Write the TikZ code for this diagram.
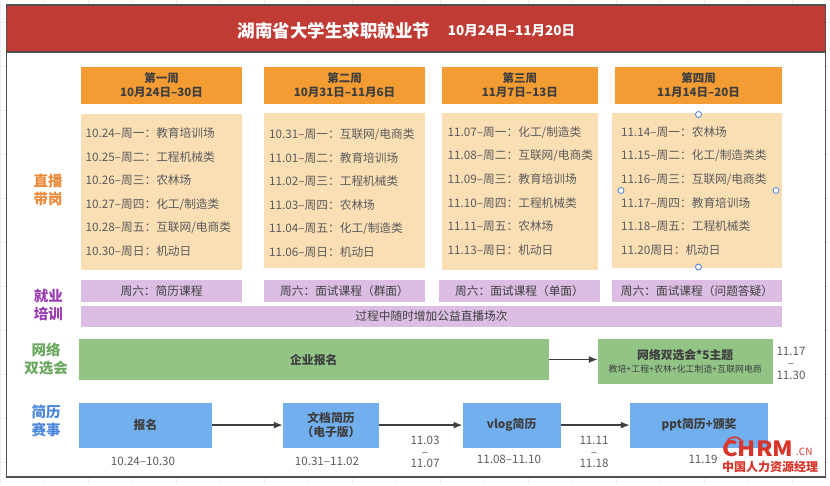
\documentclass[tikz,border=0pt]{standalone}
\usepackage{fontspec}
\setmainfont{Noto Sans CJK SC}
\usetikzlibrary{arrows.meta}
\definecolor{cred}{HTML}{BF3B33}
\definecolor{corange}{HTML}{F29C33}
\definecolor{ccream}{HTML}{FADFB5}
\definecolor{cpurple}{HTML}{DCBEE4}
\definecolor{cgreen}{HTML}{92C486}
\definecolor{cblue}{HTML}{71AFEE}
\definecolor{cink}{HTML}{3E3E3E}
\definecolor{cgrid}{HTML}{EFEFEF}
\definecolor{clogo}{HTML}{D8342A}
\definecolor{sorange}{HTML}{EC8A3A}
\definecolor{spurple}{HTML}{9A3DB0}
\definecolor{sgreen}{HTML}{6AA860}
\definecolor{sblue}{HTML}{4A86DC}
\definecolor{chandle}{HTML}{4A7FD6}
\tikzset{
  x=1pt,y=-1pt,
  boxa/.style={inner sep=0pt,align=center,text=cink,font=\fontsize{11.5}{13.5}\selectfont\bfseries},
  item/.style={anchor=west,inner sep=0pt,text=cink!85!white,font=\fontsize{11.7}{13}\selectfont},
  side/.style={inner sep=0pt,align=center,font=\fontsize{14.5}{18.5}\selectfont\bfseries},
  note/.style={inner sep=0pt,align=center,text=cink!85!white,font=\fontsize{11.6}{11.8}\selectfont},
  link/.style={draw=cink,line width=1.5pt,-{Latex[length=9pt,width=7pt]}},
  handle/.style={circle,draw=chandle,fill=white,line width=0.8pt,minimum size=6pt,inner sep=0pt},
}
% name, x1, y1, x2, y2, fill, text
\newcommand{\rbox}[7]{\node[boxa,fill=#6,minimum width=#4pt-#2pt,minimum height=#5pt-#3pt] (#1) at ({(#2+#4)/2},{(#3+#5)/2}) {#7};}
\begin{document}
\begin{tikzpicture}
\useasboundingbox (0,0) rectangle (830,485);
\fill[white] (0,0) rectangle (830,485);
\foreach \gx in {0,44,...,830} \draw[cgrid,line width=0.5pt] (\gx,0) -- (\gx,485);
\foreach \gy in {22,66,...,485} \draw[cgrid,line width=0.5pt] (0,\gy) -- (830,\gy);
% frame
\draw[fill=white,draw=cink!90!white,line width=1.1pt] (6.5,5) rectangle (825.7,477);
\draw[fill=cred,draw=cink!90!white,line width=1.1pt] (6.5,5) rectangle (825.7,52);
\node[inner sep=0pt,text=white,font=\fontsize{17.5}{20}\selectfont\bfseries] (title) at (334,30.5) {湖南省大学生求职就业节};
\node[inner sep=0pt,text=white,font=\fontsize{13.5}{16}\selectfont\bfseries] (dates) at (511.5,30.5) {10月24日–11月20日};
% week headers
\rbox{w1}{81}{66.5}{242}{104}{corange}{第一周\\10月24日–30日}
\rbox{w2}{264}{66.5}{425}{104}{corange}{第二周\\10月31日–11月6日}
\rbox{w3}{441.7}{66.5}{598}{104}{corange}{第三周\\11月7日–13日}
\rbox{w4}{615}{66.5}{782}{104}{corange}{第四周\\11月14日–20日}
% list panels
\rbox{p1}{81}{114}{242}{270}{ccream}{}
\rbox{p2}{264}{113}{425}{268}{ccream}{}
\rbox{p3}{441.7}{113}{598}{270}{ccream}{}
\rbox{p4}{612}{113}{782}{268}{ccream}{}
\node[item] (a1) at (85.5,133.5) {10.24–周一：教育培训场};
\node[item] (a2) at (85.5,157) {10.25–周二：工程机械类};
\node[item] (a3) at (85.5,180.5) {10.26–周三：农林场};
\node[item] (a4) at (85.5,204.5) {10.27–周四：化工/制造类};
\node[item] (a5) at (85.5,227.5) {10.28–周五：互联网/电商类};
\node[item] (a6) at (85.5,251.5) {10.30–周日：机动日};
\node[item] (b1) at (269,134.5) {10.31–周一：互联网/电商类};
\node[item] (b2) at (269,158) {11.01–周二：教育培训场};
\node[item] (b3) at (269,181.5) {11.02–周三：工程机械类};
\node[item] (b4) at (269,205) {11.03–周四：农林场};
\node[item] (b5) at (269,228.5) {11.04–周五：化工/制造类};
\node[item] (b6) at (269,252) {11.06–周日：机动日};
\node[item] (c1) at (447.5,132.5) {11.07–周一：化工/制造类};
\node[item] (c2) at (447.5,155.5) {11.08–周二：互联网/电商类};
\node[item] (c3) at (447.5,179.5) {11.09–周三：教育培训场};
\node[item] (c4) at (447.5,203) {11.10–周四：工程机械类};
\node[item] (c5) at (447.5,226.5) {11.11–周五：农林场};
\node[item] (c6) at (447.5,250.5) {11.13–周日：机动日};
\node[item] (d1) at (621,132.5) {11.14–周一：农林场};
\node[item] (d2) at (621,155.5) {11.15–周二：化工/制造类类};
\node[item] (d3) at (621,179.5) {11.16–周三：互联网/电商类};
\node[item] (d4) at (621,203) {11.17–周四：教育培训场};
\node[item] (d5) at (621,226.5) {11.18–周五：工程机械类};
\node[item] (d6) at (621,250.5) {11.20周日：机动日};
% selection handles
\node[handle] (h1) at (698.5,114.5) {};
\node[handle] (h2) at (621,190.5) {};
\node[handle] (h3) at (776,190.5) {};
\node[handle] (h4) at (698.5,267) {};
% side labels
\node[side,text=sorange] (s1) at (48,190) {直播\\带岗};
\node[side,text=spurple] (s2) at (48.5,305) {就业\\培训};
\node[side,text=sgreen] (s3) at (46,359) {网络\\双选会};
\node[side,text=sblue] (s4) at (46,421) {简历\\赛事};
% training
\tikzset{boxa/.append style={font=\fontsize{11.7}{13}\selectfont}}
\rbox{t1}{81}{280}{242}{301.5}{cpurple}{周六：简历课程}
\rbox{t2}{264}{280}{425}{301.5}{cpurple}{周六：面试课程（群面）}
\rbox{t3}{439}{280}{600}{301.5}{cpurple}{周六：面试课程（单面）}
\rbox{t4}{612}{279.5}{782}{302}{cpurple}{周六：面试课程（问题答疑）}
\rbox{t5}{81}{306}{782}{327}{cpurple}{过程中随时增加公益直播场次}
% green
\tikzset{boxa/.append style={font=\fontsize{11.8}{14.5}\selectfont\bfseries}}
\rbox{g1}{78.5}{339}{549}{380}{cgreen}{企业报名}
\rbox{g2}{598}{339}{772.5}{384}{cgreen}{网络双选会*5主题\\[-1pt]{\fontsize{8.9}{10}\selectfont\mdseries 教培+工程+农林+化工制造+互联网电商}}
\node[note] (n1) at (791,363.5) {11.17\\–\\11.30};
% blue
\rbox{r1}{79}{402.7}{212}{447.5}{cblue}{报名}
\rbox{r2}{283}{402.7}{379}{447.5}{cblue}{文档简历\\（电子版）}
\rbox{r3}{462.7}{402.7}{560.5}{447.5}{cblue}{vlog简历}
\rbox{r4}{630}{402.7}{768}{447.5}{cblue}{ppt简历+颁奖}
\node[note] (m1) at (143,461.5) {10.24–10.30};
\node[note] (m2) at (327,461) {10.31–11.02};
\node[note] (m3) at (425,452) {11.03\\–\\11.07};
\node[note] (m4) at (509,459.5) {11.08–11.10};
\node[note] (m5) at (594,452) {11.11\\–\\11.18};
\node[note] (m6) at (703,459) {11.19};
% connectors
\draw[link] (g1.east) -- (g2.west |- g1.east);
\draw[link] (r1) -- (r2);
\draw[link] (r2) -- (r3);
\draw[link] (r3) -- (r4);
% watermark
\node[inner sep=0pt,anchor=west,text=clogo,xscale=1.12,font=\fontsize{21}{24}\selectfont\bfseries] (lg) at (722,449) {CHRM};
\node[inner sep=0pt,anchor=west,text=clogo,font=\fontsize{10}{11}\selectfont] (lgb) at (796,452) {.CN};
\node[inner sep=0pt,anchor=west,text=clogo,font=\fontsize{12}{14}\selectfont\bfseries] (lgc) at (722,467) {中国人力资源经理};
\draw[clogo,line width=1.6pt] (727,441) .. controls (731,436) and (737,436) .. (741,440);
\end{tikzpicture}
\end{document}
